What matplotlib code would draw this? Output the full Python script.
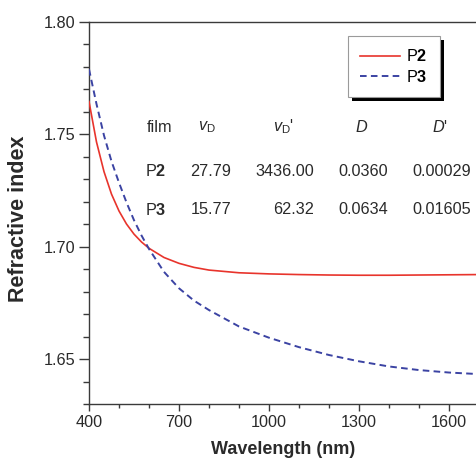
import matplotlib
matplotlib.use("Agg")
import matplotlib.pyplot as plt
from matplotlib.patches import Rectangle
from matplotlib.transforms import IdentityTransform
from matplotlib.ticker import FixedLocator, MultipleLocator, FormatStrFormatter

plt.rcParams['font.family'] = ['Liberation Sans', 'DejaVu Sans']
plt.rcParams['mathtext.fontset'] = 'custom'
plt.rcParams['mathtext.rm'] = 'Liberation Sans'
plt.rcParams['mathtext.it'] = 'Liberation Sans:italic'
plt.rcParams['mathtext.bf'] = 'Liberation Sans:bold'

# ---- data ----
wavelength = [400, 425, 450, 475, 500, 525, 550, 575, 600, 650, 700, 750, 800,
              900, 1000, 1100, 1200, 1300, 1400, 1500, 1600, 1700]
n_P2 = [1.7646, 1.7466, 1.7334, 1.7234, 1.7159, 1.7101, 1.7056, 1.7021, 1.6993,
        1.6952, 1.6926, 1.6908, 1.6896, 1.6884, 1.6879, 1.6876, 1.6874, 1.6873,
        1.6873, 1.6874, 1.6875, 1.6876]
n_P3 = [1.7790, 1.7635, 1.7495, 1.7380, 1.7285, 1.7197, 1.7118, 1.7050, 1.6990,
        1.6888, 1.6815, 1.6760, 1.6718, 1.6645, 1.6595, 1.6553, 1.6518, 1.6490,
        1.6467, 1.6451, 1.6440, 1.6433]
x_ticks = [400, 700, 1000, 1300, 1600]

films = ['P2', 'P3']
vD = [27.79, 15.77]
vD_prime = [3436.00, 62.32]
D_vals = [0.0360, 0.0634]
D_prime = [0.00029, 0.01605]

W, H = 477, 459
fig = plt.figure(figsize=(W / 100, H / 100), dpi=100)
L, R, T, B = 89, 479, 22, 404
ax = fig.add_axes([L / W, (H - B) / H, (R - L) / W, (B - T) / H])

red = '#e8342c'
blue = '#3b43a3'
ax.plot(wavelength, n_P2, color=red, lw=1.2, label=r'P$\mathbf{2}$', zorder=3)
ax.plot(wavelength, n_P3, color=blue, lw=1.4, ls=(0, (3.4, 2.2)),
        label=r'P$\mathbf{3}$', zorder=3)

ax.set_xlim(400, 1700)
ax.set_ylim(1.63, 1.80)
ax.xaxis.set_major_locator(FixedLocator(x_ticks))
ax.xaxis.set_minor_locator(MultipleLocator(100))
ax.yaxis.set_major_locator(MultipleLocator(0.05))
ax.yaxis.set_minor_locator(MultipleLocator(0.01))
ax.yaxis.set_major_formatter(FormatStrFormatter('%.2f'))

tc = '#2a2a2a'
for s in ['left', 'bottom', 'top']:
    ax.spines[s].set_color('#3a3a3a')
    ax.spines[s].set_linewidth(1.0)
ax.spines['right'].set_visible(False)
ax.tick_params(which='major', direction='out', length=5, width=1.0,
               labelsize=11.7, colors='#3a3a3a', labelcolor=tc, pad=3)
ax.tick_params(which='minor', direction='out', length=3, width=1.0, colors='#3a3a3a')
ax.tick_params(axis='y', which='major', length=7)
ax.tick_params(axis='y', which='minor', length=4)

fig.text(283 / W, 1 - 450 / H, 'Wavelength (nm)', ha='center', va='center',
         fontsize=13, fontweight='bold', color=tc)
fig.text(19 / W, 1 - 219 / H, 'Refractive index', ha='center', va='center',
         rotation=90, fontsize=15.5, fontweight='bold', color=tc)

leg = ax.legend(loc='upper left', bbox_to_anchor=(348 / W, 1 - 36 / H),
                bbox_transform=fig.transFigure, borderaxespad=0, fancybox=False,
                frameon=True, framealpha=1, fontsize=11.7, handlelength=2.45,
                handletextpad=0.4, labelspacing=0.3, borderpad=0.75)
leg.get_frame().set_edgecolor('#9a9a9a')
leg.get_frame().set_facecolor('white')
leg.get_frame().set_linewidth(0.8)
leg.set_zorder(6)

fig.canvas.draw()
bb = leg.get_window_extent()
ax.add_patch(Rectangle((bb.x0 + 4, bb.y0 - 4), bb.width, bb.height,
                       transform=IdentityTransform(), facecolor='black',
                       edgecolor='none', zorder=5.5, clip_on=False))


def axpos(px, py):
    return (px - L) / (R - L), (B - py) / (B - T)


fs = 11.7
hy = 127
headers = [(160, 'film'), (207, r'$\mathit{v}_{\mathrm{D}}$'),
           (283, r"$\mathit{v}_{\mathrm{D}}$'"), (362, r'$D$'), (440, r"$D$'")]
for px, s in headers:
    x, y = axpos(px, hy)
    ax.text(x, y, s, transform=ax.transAxes, ha='center', va='center',
            fontsize=fs, color=tc)

rows_y = [171, 210]
for i, f in enumerate(films):
    py = rows_y[i]
    name = r'P$\mathbf{' + f[1:] + '}$'
    cells = [(156, name, 'center'),
             (231, f'{vD[i]:.2f}', 'right'),
             (314, f'{vD_prime[i]:.2f}', 'right'),
             (388, f'{D_vals[i]:.4f}', 'right'),
             (471, f'{D_prime[i]:.5f}', 'right')]
    for px, s, ha in cells:
        x, y = axpos(px, py)
        ax.text(x, y, s, transform=ax.transAxes, ha=ha, va='center',
                fontsize=fs, color=tc)

fig.savefig('out.png', dpi=100)
